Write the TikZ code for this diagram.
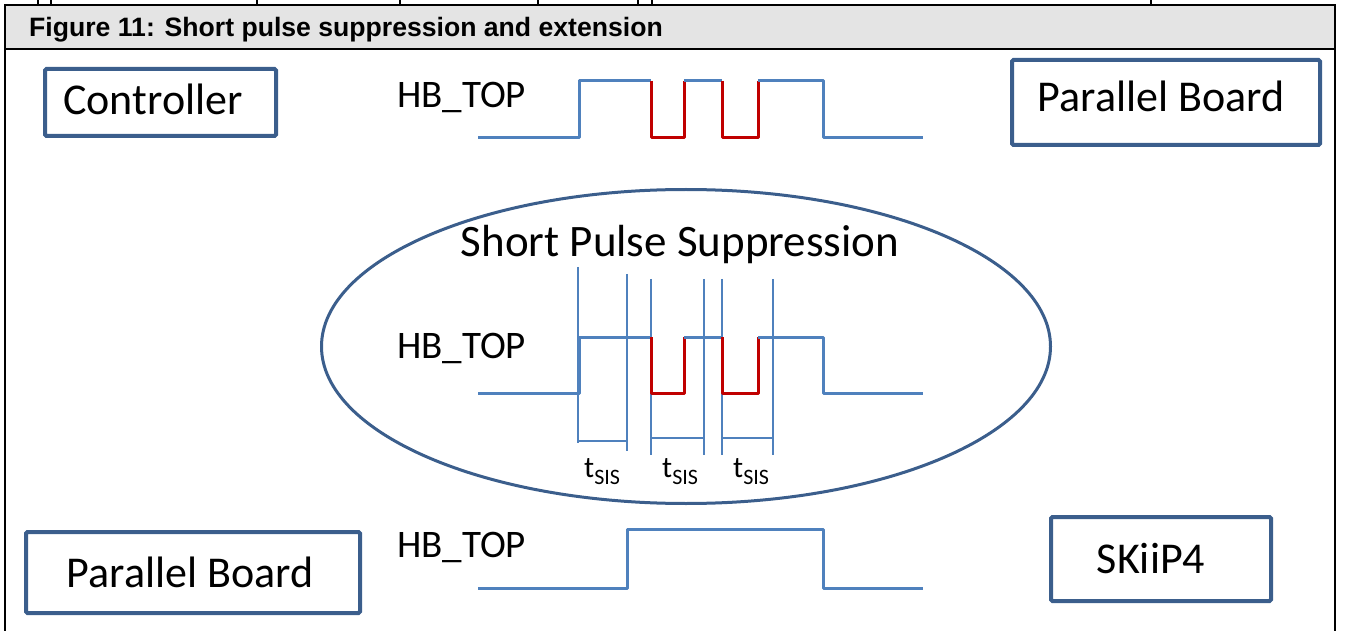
\documentclass[tikz,border=0pt]{standalone}
\usepackage{fontspec}
\setmainfont{Carlito}
\newfontfamily\arialfont{Liberation Sans}
\usetikzlibrary{shapes.geometric}
\definecolor{boxblue}{RGB}{59,94,140}
\definecolor{wave}{RGB}{79,129,189}
\definecolor{wavered}{RGB}{192,0,0}
\definecolor{hdrgray}{RGB}{228,228,228}
\begin{document}
\begin{tikzpicture}[x=1pt,y=-1pt,
  blockbox/.style={draw=boxblue, line width=4pt, rounded corners=1.5pt, inner sep=0pt},
  boxtext/.style={anchor=base, inner sep=0pt, font=\fontsize{44}{50}\selectfont},
  sigtext/.style={anchor=base west, inner sep=0pt, font=\fontsize{39}{44}\selectfont},
  tlabel/.style={anchor=base west, inner sep=0pt, font=\fontsize{30}{32}\selectfont},
  sig/.style={draw=wave, line width=3pt, line join=round},
  sigred/.style={draw=wavered, line width=3pt, line join=round},
  thin/.style={draw=wave, line width=1.1pt},
  frame/.style={draw=black, line width=1.5pt}]
\useasboundingbox (0,0) rectangle (1345,631);
% clipped descenders of the line above
\foreach \tx in {38,51,257,400,538,638,652,1151}
  \draw[black, line width=1.5pt] (\tx,0) -- (\tx,5);
% header
\fill[hdrgray] (5,5) rectangle (1335,49);
\draw[frame] (5,631) -- (5,5) -- (1335,5) -- (1335,631);
\draw[frame] (5,49) -- (1335,49);
\node[anchor=base west, inner sep=0pt, font=\arialfont\bfseries\fontsize{26.6}{30}\selectfont] (title) at (29,37) {Figure 11: Short pulse suppression and extension};
% boxes
\node[blockbox, minimum width=231pt, minimum height=67pt] (ctrl) at (160.5,102.5) {};
\node[boxtext] (ctrltxt) at (153,115) {Controller};
\node[blockbox, minimum width=308pt, minimum height=85pt] (pbtop) at (1166,102.5) {};
\node[boxtext] (pbtoptxt) at (1161,112) {Parallel Board};
\node[blockbox, minimum width=334pt, minimum height=81pt] (pbbot) at (193,572.5) {};
\node[boxtext] (pbbottxt) at (190,587) {Parallel Board};
\node[blockbox, minimum width=220pt, minimum height=84pt] (skiip) at (1161,559) {};
\node[boxtext] (skiiptxt) at (1151,573) {SKiiP4};
% ellipse
\node[draw=boxblue, line width=3pt, ellipse, inner sep=0pt, minimum width=729pt, minimum height=314pt] (sps) at (686,346.5) {};
\node[anchor=base, inner sep=0pt, font=\fontsize{45}{50}\selectfont] (spstxt) at (680,257) {Short Pulse Suppression};
% signal labels
\node[sigtext] (hb1) at (397,108) {HB\_TOP};
\node[sigtext] (hb2) at (397,358) {HB\_TOP};
\node[sigtext] (hb3) at (397,557) {HB\_TOP};
% top waveform
\draw[sig] (478,138) -- (579,138) -- (579,81) -- (651,81);
\draw[sigred] (651,81) -- (651,138) -- (684,138) -- (684,81);
\draw[sig] (684,81) -- (722,81);
\draw[sigred] (722,81) -- (722,138) -- (758,138) -- (758,81);
\draw[sig] (758,81) -- (823,81) -- (823,138) -- (923,138);
% middle waveform guides
\draw[thin] (578,267) -- (578,443);
\draw[thin] (627,274) -- (627,451);
\draw[thin] (651,279) -- (651,455);
\draw[thin] (704,279) -- (704,455);
\draw[thin] (722,279) -- (722,455);
\draw[thin] (773,279) -- (773,455);
\draw[thin] (577,441) -- (627,441);
\draw[thin] (651,438) -- (705,438);
\draw[thin] (722,438) -- (773,438);
% middle waveform
\draw[sig] (478,393) -- (579,393) -- (579,337) -- (651,337);
\draw[sigred] (651,337) -- (651,393) -- (684,393) -- (684,337);
\draw[sig] (684,337) -- (722,337);
\draw[sigred] (722,337) -- (722,393) -- (758,393) -- (758,337);
\draw[sig] (758,337) -- (823,337) -- (823,393) -- (923,393);
% t_SIS labels
\node[tlabel] (t1) at (584,477) {t\raisebox{-7pt}{\fontsize{22}{24}\selectfont SIS}};
\node[tlabel] (t2) at (662,477) {t\raisebox{-7pt}{\fontsize{22}{24}\selectfont SIS}};
\node[tlabel] (t3) at (733,477) {t\raisebox{-7pt}{\fontsize{22}{24}\selectfont SIS}};
% bottom waveform
\draw[sig] (478,588) -- (627,588) -- (627,529) -- (823,529) -- (823,588) -- (923,588);
\end{tikzpicture}
\end{document}
